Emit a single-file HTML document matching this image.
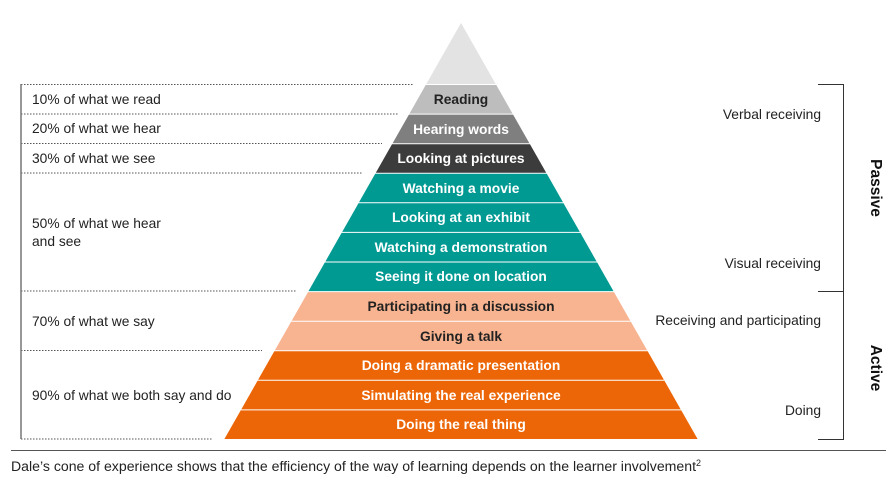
<!DOCTYPE html>
<html><head><meta charset="utf-8"><style>
html,body{margin:0;padding:0;background:#fff;}
svg{display:block;font-family:"Liberation Sans",sans-serif;}
.b{font-weight:bold;font-size:13.8px;text-anchor:middle;fill:#fff;}
.l{font-size:13.8px;fill:#222;}
.r{font-size:13.8px;fill:#222;text-anchor:end;}
</style></head><body>
<svg width="896" height="477" viewBox="0 0 896 477">
<polygon points="461,23 495.7,84 426.3,84" fill="#e3e3e3"/>
<polygon points="425.7,85 496.3,85 512.5,113.6 409.5,113.6" fill="#bdbdbd"/>
<polygon points="408.9,114.6 513.1,114.6 529.4,143.2 392.6,143.2" fill="#7f7f7f"/>
<polygon points="392,144.2 530,144.2 546.2,172.8 375.8,172.8" fill="#3c3c3c"/>
<polygon points="375.2,173.8 546.8,173.8 563,202.3 359,202.3" fill="#009a93"/>
<polygon points="358.5,203.3 563.5,203.3 579.8,231.9 342.2,231.9" fill="#009a93"/>
<polygon points="341.6,232.9 580.4,232.9 596.6,261.5 325.4,261.5" fill="#009a93"/>
<polygon points="324.8,262.5 597.2,262.5 613.5,291.1 308.5,291.1" fill="#009a93"/>
<polygon points="308,292.1 614,292.1 630.3,320.7 291.7,320.7" fill="#f8b490"/>
<polygon points="291.1,321.7 630.9,321.7 647.1,350.3 274.9,350.3" fill="#f8b490"/>
<polygon points="274.3,351.3 647.7,351.3 663.9,379.8 258.1,379.8" fill="#ec6607"/>
<polygon points="257.5,380.8 664.5,380.8 680.7,409.4 241.3,409.4" fill="#ec6607"/>
<polygon points="240.7,410.4 681.3,410.4 697.6,439 224.4,439" fill="#ec6607"/>

<text class="b" x="461" y="104" style="fill:#222">Reading</text>
<text class="b" x="461" y="134">Hearing words</text>
<text class="b" x="461" y="163">Looking at pictures</text>
<text class="b" x="461" y="193">Watching a movie</text>
<text class="b" x="461" y="222">Looking at an exhibit</text>
<text class="b" x="461" y="252">Watching a demonstration</text>
<text class="b" x="461" y="281">Seeing it done on location</text>
<text class="b" x="461" y="311" style="fill:#222">Participating in a discussion</text>
<text class="b" x="461" y="341" style="fill:#222">Giving a talk</text>
<text class="b" x="461" y="370">Doing a dramatic presentation</text>
<text class="b" x="461" y="400">Simulating the real experience</text>
<text class="b" x="461" y="429">Doing the real thing</text>

<g stroke="#555" stroke-width="1" stroke-dasharray="1.5,1.5">
<line x1="21" y1="84.5" x2="414" y2="84.5"/>
<line x1="21" y1="114" x2="398" y2="114"/>
<line x1="21" y1="143.5" x2="382" y2="143.5"/>
<line x1="21" y1="173" x2="362" y2="173"/>
<line x1="21" y1="291" x2="296" y2="291"/>
<line x1="21" y1="350.5" x2="262" y2="350.5"/>
<line x1="21" y1="439" x2="212" y2="439"/>
</g>
<line x1="21" y1="84" x2="21" y2="439" stroke="#777" stroke-width="1.5"/>

<text class="l" x="32" y="104">10% of what we read</text>
<text class="l" x="32" y="133">20% of what we hear</text>
<text class="l" x="32" y="163">30% of what we see</text>
<text class="l" x="32" y="228">50% of what we hear</text>
<text class="l" x="32" y="246">and see</text>
<text class="l" x="32" y="326">70% of what we say</text>
<text class="l" x="32" y="400">90% of what we both say and do</text>

<text class="r" x="821" y="119">Verbal receiving</text>
<text class="r" x="821" y="268">Visual receiving</text>
<text class="r" x="821" y="325">Receiving and participating</text>
<text class="r" x="821" y="415">Doing</text>

<g stroke="#333" stroke-width="1" fill="none">
<polyline points="818,84.5 843.5,84.5 843.5,439.5 818,439.5"/>
<line x1="818" y1="291.5" x2="843.5" y2="291.5"/>
</g>
<text x="866" y="188" font-weight="bold" font-size="15.5" fill="#111" text-anchor="middle" transform="rotate(90 866 188)" dy="-5">Passive</text>
<text x="866" y="368" font-weight="bold" font-size="15.5" fill="#111" text-anchor="middle" transform="rotate(90 866 368)" dy="-5">Active</text>

<line x1="11" y1="450.5" x2="886" y2="450.5" stroke="#555" stroke-width="1"/>
<text class="l" x="11" y="471" style="font-size:14.1px">Dale’s cone of experience shows that the efficiency of the way of learning depends on the learner involvement<tspan font-size="9" dy="-5">2</tspan></text>
</svg>
</body></html>
